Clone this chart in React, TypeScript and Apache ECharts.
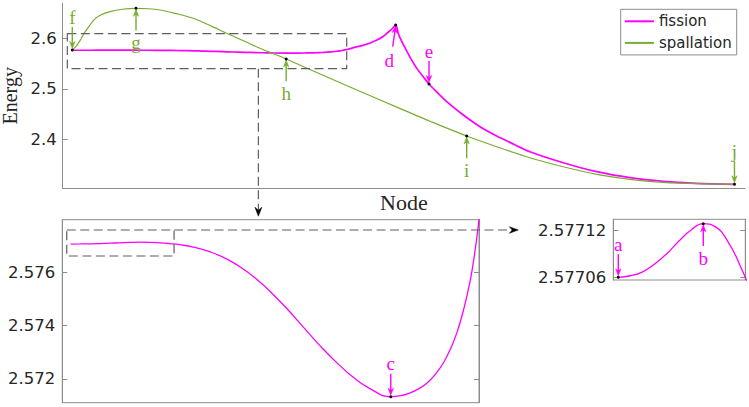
import React, { useEffect, useRef } from "react";
import * as echarts from "echarts";

// ---------- data ----------
const seriesNames = ["fission", "spallation"];

const fissionNode = [
  0, 1, 2, 3, 4, 5, 6, 7, 8, 9, 10, 11, 12.4, 14.1, 15.8, 17.45, 19.1, 20.15,
  21.8, 23.5, 25.2, 26.9, 28.6, 30.3, 32.36, 33.36, 34.3, 35.2, 36, 36.9, 37.67,
  38.4, 39.03, 39.7, 40.37, 40.8, 41.21, 41.7, 42.5, 44, 45, 46, 47, 47.5, 48.2,
  48.84, 49.3, 50, 51, 52, 53, 53.87, 55.5, 56.54, 59.05, 61.57, 64.09, 66.6,
  69.1, 74.15, 79.19, 84.22, 89.25, 94.29, 100,
];
const fissionEnergy = [
  2.57706, 2.577062, 2.577067, 2.577077, 2.57709, 2.577106, 2.57712, 2.577128,
  2.577124, 2.577106, 2.577076, 2.577036, 2.576945, 2.576766, 2.576494, 2.576123,
  2.575644, 2.575287, 2.57466, 2.573955, 2.57325, 2.572613, 2.572052, 2.571627,
  2.571335, 2.571373, 2.571478, 2.57164, 2.571838, 2.57219, 2.5726, 2.57313,
  2.57372, 2.57456, 2.57565, 2.5766, 2.57775, 2.5793, 2.5822, 2.5872, 2.5915,
  2.5974, 2.605, 2.6105, 2.6185, 2.6272, 2.6075, 2.588, 2.5635, 2.5415, 2.5245,
  2.5099, 2.4881, 2.4748, 2.4483, 2.4251, 2.4066, 2.3907, 2.3754, 2.3535, 2.3356,
  2.3237, 2.3165, 2.3125, 2.3105,
];

const spallationNode = [
  0, 0.6, 1.2, 1.8, 2.5, 3.2, 4.2, 5.7, 7.5, 9.62, 11.5, 13.24, 15.5, 18.27, 21,
  23.32, 26, 28.35, 30.5, 32.3, 36.4, 41.4, 46.5, 51.5, 54, 59.56, 64.09, 69.1,
  74.15, 79.19, 84.22, 89.25, 94.29, 100,
];
const spallationEnergy = [
  2.5775, 2.585, 2.597, 2.611, 2.624, 2.6365, 2.6465, 2.6537, 2.6585, 2.6604,
  2.6595, 2.6571, 2.6505, 2.6406, 2.625, 2.6107, 2.595, 2.5809, 2.5695, 2.5596,
  2.5358, 2.507, 2.478, 2.45, 2.436, 2.4066, 2.3853, 2.3634, 2.3455, 2.3304,
  2.3205, 2.3145, 2.3117, 2.3105,
];

const energyTicksMain = [2.4, 2.5, 2.6];
const energyTicksZoom = [2.572, 2.574, 2.576];
const energyTicksDetail = [2.57706, 2.57712];

// panel ranges
const mainNodeRange = [-1.45, 101.59];
const mainEnergyRange = [2.30259, 2.67037];
const zoomNodeRange = [-0.85, 41.28];
const zoomEnergyRange = [2.571111, 2.577972];
const detailNodeRange = [-0.41, 10.46];
const detailEnergyRange = [2.5770566, 2.5771336];

// zoom boxes (in data coordinates of the panel they are drawn in)
const mainBoxNodes = [-0.75, 41.44];
const mainBoxEnergy = [2.5404, 2.6099];
const zoomBoxNodes = [-0.4, 10.45];
const zoomBoxEnergy = [2.576611, 2.577586];
const connectorNode = 28.1;

// marked points
const markLabels = ["a", "b", "c", "d", "e", "f", "g", "h", "i", "j"];
const markSeries = [
  "fission", "fission", "fission", "fission", "fission",
  "spallation", "spallation", "spallation", "spallation", "spallation",
];
const markNodes = [0, 7, 32.36, 48.84, 53.87, 0, 9.62, 32.3, 59.56, 100];
const markPanel = [2, 2, 1, 0, 0, 0, 0, 0, 0, 0];
const markSide = ["above", "below", "above", "slant", "above", "above", "below", "below", "below", "above"];

// ---------- styles ----------
const MAGENTA = "#ff00ff";
const GREEN = "#77ac30";
const AXIS = "#8c8c8c";
const TEXT = "#262626";
const DASH = "#5e5e5e";
const SANS = "DejaVu Sans";
const SERIF = "Liberation Serif";

const pairs = (xs: number[], ys: number[]) => xs.map((x, i) => [x, ys[i]]);

export default function App() {
  const ref = useRef<HTMLDivElement>(null);

  useEffect(() => {
    if (!ref.current) return;
    const chart = echarts.init(ref.current, null, { renderer: "svg" });

    const tickLabel = { fontFamily: SANS, fontSize: 16.5, color: TEXT };
    const hiddenX = (grid: number, range: number[], extra: any = {}) => ({
      type: "value",
      gridIndex: grid,
      min: range[0],
      max: range[1],
      axisLine: { show: false, onZero: false },
      axisTick: { show: false },
      axisLabel: { show: false },
      splitLine: { show: false },
      ...extra,
    });
    const yAx = (grid: number, range: number[], ticks: number[], pos: string, labels: boolean, margin: number, extra: any = {}) => ({
      type: "value",
      gridIndex: grid,
      position: pos,
      min: range[0],
      max: range[1],
      axisLine: { show: true, onZero: false, lineStyle: { color: AXIS, width: 1 } },
      axisTick: { show: true, inside: true, length: 5, customValues: ticks, lineStyle: { color: AXIS } },
      axisLabel: { show: labels, customValues: ticks, margin, ...tickLabel },
      splitLine: { show: false },
      ...extra,
    });

    const fissionData = pairs(fissionNode, fissionEnergy);
    const spallationData = pairs(spallationNode, spallationEnergy);

    const lineSeries = (name: string, data: number[][], color: string, width: number, xi: number, yi: number, smooth: number) => ({
      type: "line",
      name,
      data,
      xAxisIndex: xi,
      yAxisIndex: yi,
      symbol: "none",
      showSymbol: false,
      smooth,
      clip: true,
      lineStyle: { color, width },
      itemStyle: { color },
      emphasis: { disabled: true },
    });

    chart.setOption({
      animation: false,
      backgroundColor: "#ffffff",
      grid: [
        { left: 62.7, top: 3.3, width: 682.3, height: 185, containLabel: false, outerBoundsMode: "none" },
        { left: 62.3, top: 219.7, width: 416.7, height: 183, show: true, borderColor: AXIS, borderWidth: 1, backgroundColor: "transparent", containLabel: false, outerBoundsMode: "none" },
        { left: 613.3, top: 219.3, width: 132, height: 60.7, show: true, borderColor: AXIS, borderWidth: 1, backgroundColor: "transparent", containLabel: false, outerBoundsMode: "none" },
      ],
      xAxis: [
        hiddenX(0, mainNodeRange, {
          axisLine: { show: true, onZero: false, lineStyle: { color: AXIS, width: 1 } },
          name: "Node",
          nameLocation: "middle",
          nameGap: 3,
          nameTextStyle: { fontFamily: SERIF, fontSize: 22, color: TEXT },
        }),
        hiddenX(1, zoomNodeRange),
        hiddenX(2, detailNodeRange),
      ],
      yAxis: [
        yAx(0, mainEnergyRange, energyTicksMain, "left", true, 6, {
          name: "Energy",
          nameLocation: "middle",
          nameGap: 36,
          nameTextStyle: { fontFamily: SERIF, fontSize: 20, color: TEXT },
        }),
        yAx(1, zoomEnergyRange, energyTicksZoom, "left", true, 7),
        yAx(1, zoomEnergyRange, energyTicksZoom, "right", false, 7),
        yAx(2, detailEnergyRange, energyTicksDetail, "left", true, 7),
        yAx(2, detailEnergyRange, energyTicksDetail, "right", false, 7),
      ],
      legend: {
        data: seriesNames,
        orient: "vertical",
        left: 620.7,
        top: 9.3,
        padding: [4.5, 5, 4.5, 4.2],
        itemGap: 6.6,
        itemWidth: 29,
        itemHeight: 2,
        icon: "rect",
        borderColor: AXIS,
        borderWidth: 1,
        borderRadius: 0,
        backgroundColor: "#ffffff",
        textStyle: { fontFamily: SANS, fontSize: 15, color: TEXT },
        selectedMode: false,
      },
      series: [
        lineSeries(seriesNames[0], fissionData, MAGENTA, 1.7, 0, 0, 0.3),
        lineSeries(seriesNames[1], spallationData, GREEN, 1.2, 0, 0, 0.3),
        lineSeries(seriesNames[0], fissionData, MAGENTA, 1.3, 1, 1, 0.5),
        lineSeries(seriesNames[0], fissionData, MAGENTA, 1.3, 2, 3, 0.5),
      ],
    });

    const yIdx = [0, 1, 3];
    const px = (panel: number, x: number, y: number): number[] =>
      chart.convertToPixel({ xAxisIndex: panel, yAxisIndex: yIdx[panel] } as any, [x, y]) as number[];

    const els: any[] = [];
    const dashStyle = { stroke: DASH, lineWidth: 1.2, lineDash: [9, 4.5], fill: null };

    const head = (tx: number, ty: number, ux: number, uy: number, L: number, W: number, notch: number, color: string) => {
      const nx = -uy, ny = ux;
      els.push({
        type: "polygon",
        z: 100,
        shape: {
          points: [
            [tx, ty],
            [tx - L * ux + W * nx, ty - L * uy + W * ny],
            [tx - (L - notch) * ux, ty - (L - notch) * uy],
            [tx - L * ux - W * nx, ty - L * uy - W * ny],
          ],
        },
        style: { fill: color, stroke: color, lineWidth: 0.5 },
      });
    };

    // main dashed box
    const m1 = px(0, mainBoxNodes[0], mainBoxEnergy[1]);
    const m2 = px(0, mainBoxNodes[1], mainBoxEnergy[0]);
    els.push({ type: "rect", z: 90, shape: { x: m1[0], y: m1[1], width: m2[0] - m1[0], height: m2[1] - m1[1] }, style: dashStyle });

    // connector from main box down to zoom panel
    const c1 = px(0, connectorNode, mainBoxEnergy[0]);
    const zoomTop = px(1, zoomNodeRange[0], zoomEnergyRange[1])[1];
    const tipY = zoomTop - 3.5;
    els.push({ type: "line", z: 90, shape: { x1: c1[0], y1: c1[1], x2: c1[0], y2: tipY - 6 }, style: { ...dashStyle } });
    head(c1[0], tipY, 0, 1, 9, 3.5, 3, "#000");

    // zoom dashed box + connector to detail panel
    const z1 = px(1, zoomBoxNodes[0], zoomBoxEnergy[1]);
    const z2 = px(1, zoomBoxNodes[1], zoomBoxEnergy[0]);
    els.push({ type: "rect", z: 90, shape: { x: z1[0], y: z1[1], width: z2[0] - z1[0], height: z2[1] - z1[1] }, style: dashStyle });
    const detailLeft = px(2, detailNodeRange[0], detailEnergyRange[0])[0];
    const tipX = detailLeft - 95;
    els.push({ type: "line", z: 90, shape: { x1: z2[0], y1: z1[1], x2: tipX - 6, y2: z1[1] }, style: { ...dashStyle } });
    head(tipX, z1[1], 1, 0, 9, 3.3, 3, "#000");

    // marked points
    markLabels.forEach((lab, k) => {
      const isF = markSeries[k] === seriesNames[0];
      const nodes = isF ? fissionNode : spallationNode;
      const energies = isF ? fissionEnergy : spallationEnergy;
      const idx = nodes.indexOf(markNodes[k]);
      const p = px(markPanel[k], nodes[idx], energies[idx]);
      const color = isF ? MAGENTA : GREEN;
      const side = markSide[k];
      let tail: number[], tip: number[], txt: number[];
      if (side === "above") {
        tail = [p[0], p[1] - 23];
        tip = [p[0], p[1] - 1.5];
        txt = [p[0], p[1] - 26.5];
      } else if (side === "below") {
        tail = [p[0], p[1] + 22.3];
        tip = [p[0], p[1] + 1];
        txt = [p[0], p[1] + 41];
      } else {
        tail = [p[0] - 3, p[1] + 21.7];
        tip = [p[0], p[1] + 1];
        txt = [p[0] - 6.4, p[1] + 41.7];
      }
      const dx = tip[0] - tail[0], dy = tip[1] - tail[1];
      const len = Math.hypot(dx, dy);
      const ux = dx / len, uy = dy / len;
      els.push({
        type: "line",
        z: 100,
        shape: { x1: tail[0], y1: tail[1], x2: tip[0] - ux * 4, y2: tip[1] - uy * 4 },
        style: { stroke: color, lineWidth: 1.4 },
      });
      head(tip[0], tip[1], ux, uy, 7, 2.7, 2, color);
      els.push({
        type: "text",
        z: 100,
        x: txt[0],
        y: txt[1] - 0.3375 * 19,
        style: { text: lab, fontFamily: SERIF, fontSize: 19, fill: color, align: "center", verticalAlign: "middle" },
      });
      els.push({ type: "circle", z: 110, shape: { cx: p[0], cy: p[1], r: 1.5 }, style: { fill: "#000" } });
    });

    chart.setOption({ graphic: { elements: els } });

    return () => chart.dispose();
  }, []);

  return (
    <div
      ref={ref}
      style={{ position: "absolute", left: 0, top: 0, width: 749, height: 407, background: "#fff" }}
    />
  );
}
